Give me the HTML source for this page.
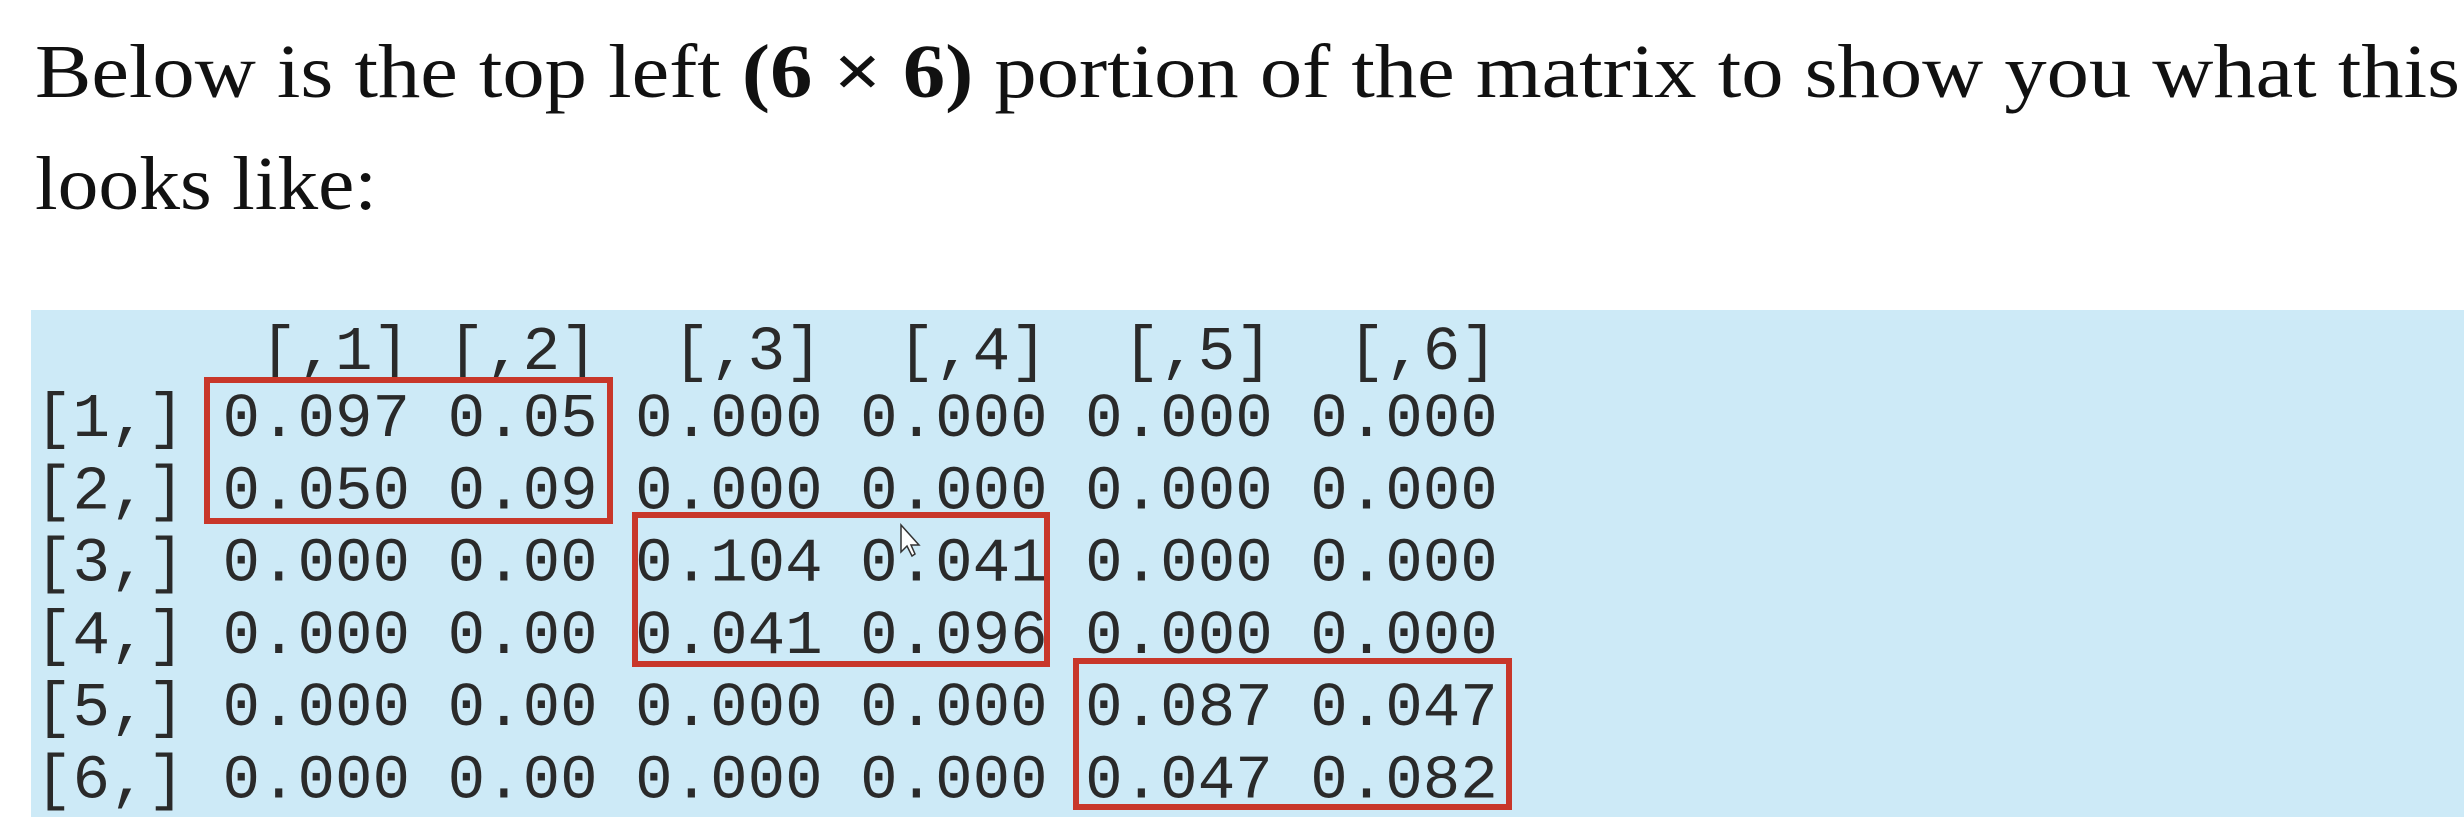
<!DOCTYPE html>
<html><head><meta charset="utf-8"><style>
html,body{margin:0;padding:0;background:#fff;width:2464px;height:832px;overflow:hidden}
svg{display:block}
#mat text{white-space:pre}
</style></head><body>
<svg width="2464" height="832" viewBox="0 0 2464 832">
<text x="35" y="97" font-family="Liberation Serif, serif" font-size="76" fill="#111" textLength="2425" lengthAdjust="spacingAndGlyphs">Below is the top left <tspan font-weight="bold">(6 × 6)</tspan> portion of the matrix to show you what this</text>
<text x="35" y="209" font-family="Liberation Serif, serif" font-size="76" fill="#111" textLength="342" lengthAdjust="spacingAndGlyphs">looks like:</text>
<rect x="31" y="310" width="2433" height="507" fill="#cdeaf7"/>
<g id="mat" font-family="Liberation Mono, monospace" font-size="62.5" fill="#2a2a2a"></g>
<g fill="none" stroke="#c8372a" stroke-width="6">
<rect x="207" y="380" width="403" height="141"/>
<rect x="635" y="515" width="412" height="149"/>
<rect x="1076" y="661" width="433" height="146"/>
</g>
<polygon points="901,525 901,552 907,546 912,556 915,554 911,545 919,545" fill="#fff" stroke="#333" stroke-width="1.5"/>
</svg>
<script>
const header = "      [,1] [,2]  [,3]  [,4]  [,5]  [,6]";
const rowLabels = ["[1,]","[2,]","[3,]","[4,]","[5,]","[6,]"];
const rowValues = [
 ["0.097","0.05","0.000","0.000","0.000","0.000"],
 ["0.050","0.09","0.000","0.000","0.000","0.000"],
 ["0.000","0.00","0.104","0.041","0.000","0.000"],
 ["0.000","0.00","0.041","0.096","0.000","0.000"],
 ["0.000","0.00","0.000","0.000","0.087","0.047"],
 ["0.000","0.00","0.000","0.000","0.047","0.082"]
];
const g = document.getElementById('mat');
const NS = "http://www.w3.org/2000/svg";
function addLine(str, y, name){
  const t = document.createElementNS(NS,'text');
  t.setAttribute('x', 35);
  t.setAttribute('y', y);
  t.setAttributeNS("http://www.w3.org/XML/1998/namespace", 'xml:space', 'preserve');
  t.textContent = str;
  
  
  g.appendChild(t);
}
addLine(header, 369, 'column-header-row');
rowValues.forEach((r,i)=>{
  addLine(rowLabels[i]+" "+r.join(" "), 436+i*72.3, 'matrix-row-'+(i+1));
});
</script>
</body></html>
